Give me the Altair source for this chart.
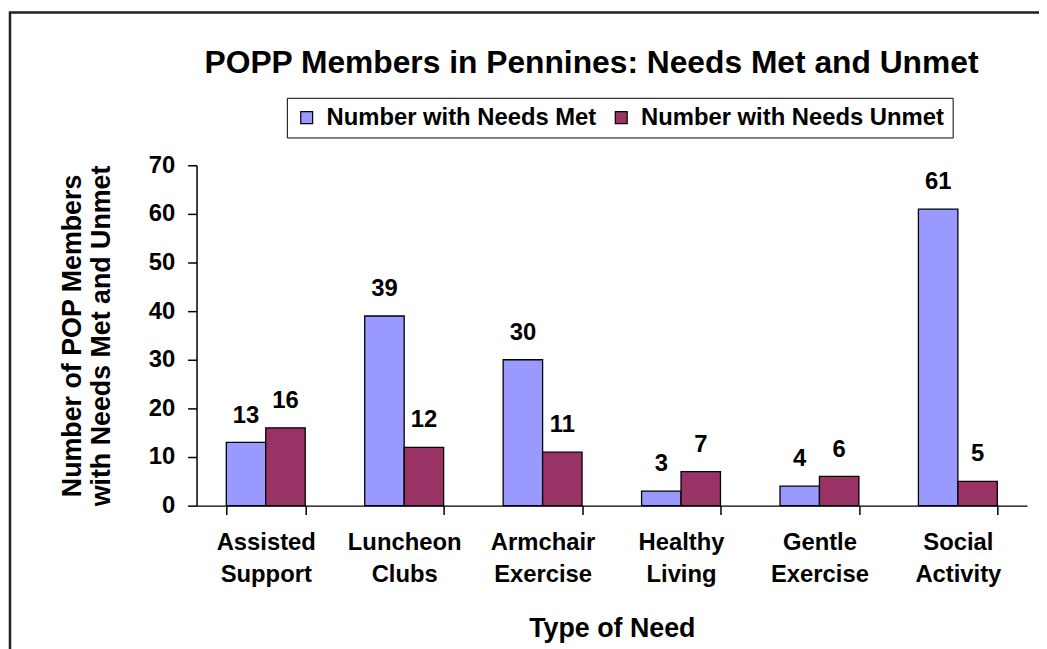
import altair as alt
import pandas as pd

categories = ["Assisted Support", "Luncheon Clubs", "Armchair Exercise",
              "Healthy Living", "Gentle Exercise", "Social Activity"]
needs_met = [13, 39, 30, 3, 4, 61]
needs_unmet = [16, 12, 11, 7, 6, 5]
series = ["Number with Needs Met", "Number with Needs Unmet"]
colors = ["#9999FF", "#993366"]
y_ticks = [0, 10, 20, 30, 40, 50, 60, 70]
chart_title = ["POPP Members in Pennines: Needs Met and Unmet"]

rows = []
for c, m, u in zip(categories, needs_met, needs_unmet):
    rows.append({"cat": c, "series": series[0], "value": m})
    rows.append({"cat": c, "series": series[1], "value": u})
df = pd.DataFrame(rows)

FONT = "Liberation Sans"
W, H = 837, 343

x = alt.X("cat:N", sort=categories, title="Type of Need",
          scale=alt.Scale(paddingInner=0.43, paddingOuter=0.215),
          axis=alt.Axis(labelAngle=0, labelExpr="split(datum.label, ' ')",
                        labelLineHeight=32, labelFontSize=24, labelFont=FONT,
                        labelFontWeight="bold", labelColor="black",
                        labelPadding=16, labelBaseline="top",
                        tickBand="extent", tickSize=9, tickColor="black",
                        tickWidth=1.5, domainColor="black", domainWidth=1.5,
                        titleFont=FONT, titleFontSize=27, titleFontWeight="bold",
                        titleColor="black", titleBaseline="alphabetic",
                        titleY=132, grid=False))
xo = alt.XOffset("series:N", sort=series,
                 scale=alt.Scale(paddingInner=0, paddingOuter=0))
y = alt.Y("value:Q",
          scale=alt.Scale(domain=[0, 70], nice=False),
          title=["Number of POP Members", "with Needs Met and Unmet"],
          axis=alt.Axis(values=y_ticks, labelFontSize=24, labelFont=FONT,
                        labelFontWeight="bold", labelColor="black",
                        labelPadding=13, tickSize=9, tickColor="black",
                        tickWidth=1.5, domainColor="black", domainWidth=1.5,
                        grid=False, titleFont=FONT, titleFontSize=27,
                        titleFontWeight="bold", titleColor="black",
                        titleLineHeight=29, titleBaseline="middle",
                        titleX=-125))
color = alt.Color("series:N", sort=series,
                  scale=alt.Scale(domain=series, range=colors),
                  legend=alt.Legend(title=None, orient="none", direction="horizontal",
                                    legendX=91, legendY=-68,
                                    strokeColor="black", padding=8,
                                    labelFont=FONT, labelFontSize=24,
                                    labelFontWeight="bold", labelColor="black",
                                    labelLimit=0,
                                    symbolType="square", symbolSize=144,
                                    symbolStrokeColor="black", symbolStrokeWidth=1.2,
                                    labelOffset=8, columnPadding=12))

bars = alt.Chart(df).mark_bar(stroke="black", strokeWidth=1.3).encode(
    x=x, xOffset=xo, y=y, color=color)

labels = alt.Chart(df).mark_text(dy=-20, baseline="alphabetic", font=FONT,
                                 fontSize=24, fontWeight="bold", color="black").encode(
    x=alt.X("cat:N", sort=categories), xOffset=xo, y="value:Q",
    text="value:Q")

title = alt.Chart(pd.DataFrame({"t": chart_title})).mark_text(
    font=FONT, fontSize=32, fontWeight="bold", color="black",
    align="center", baseline="alphabetic").encode(
    x=alt.value(398), y=alt.value(-93), text="t:N")

frame = alt.Chart(pd.DataFrame({"f": [0]})).mark_rect(
    fill="transparent", stroke="#222222", strokeWidth=2.5).encode(
    x=alt.value(-188), x2=alt.value(950), y=alt.value(-154), y2=alt.value(700))

chart = alt.layer(frame, bars, labels, title).properties(
    width=W, height=H,
    autosize=alt.AutoSizeParams(type="none"),
    padding={"left": 190, "top": 156, "right": 12, "bottom": 142},
    background="white",
).configure_view(stroke="transparent")

chart.save("out.html", embed_options={"renderer": "svg", "actions": False})
